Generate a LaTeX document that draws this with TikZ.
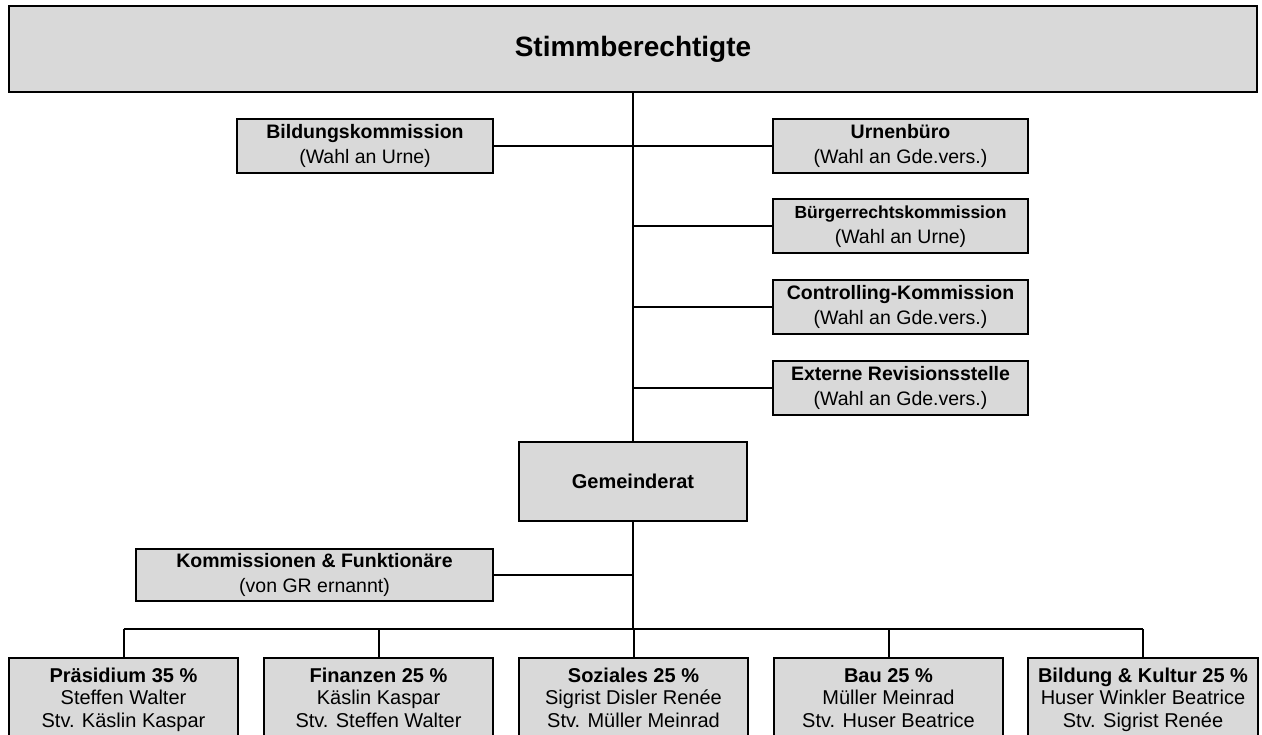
\documentclass[tikz,border=0pt]{standalone}
\usepackage{fontspec}
\setmainfont{Liberation Sans}
\definecolor{boxgray}{RGB}{217,217,217}
\begin{document}
\begin{tikzpicture}[x=1pt,y=-1pt,
  box/.style={draw=black, line width=2pt, fill=boxgray, inner sep=0pt, align=center, text=black,
    font=\fontsize{19.5}{25}\selectfont},
  botbox/.style={box, minimum width=229pt, minimum height=84pt,
    font=\fontsize{20}{22.5}\selectfont},
  rbox/.style={box, minimum width=255pt, minimum height=54pt},
  conn/.style={draw=black, line width=2pt}]
\useasboundingbox (0,0) rectangle (1262,735);
\clip (0,0) rectangle (1262,735);

\node[box, minimum width=1248pt, minimum height=86pt, font=\fontsize{28}{30}\selectfont\bfseries] (stimm) at (633,49) {Stimmberechtigte};

\node[box, minimum width=256pt, minimum height=54pt] (bk) at (365,146) {\strut{\bfseries Bildungskommission}\\\strut(Wahl an Urne)};
\node[rbox] (ub) at (900.5,146) {\strut{\bfseries Urnenbüro}\\\strut(Wahl an Gde.vers.)};
\node[rbox] (brk) at (900.5,226) {\strut{\fontsize{17.5}{25}\selectfont\bfseries Bürgerrechtskommission}\\\strut(Wahl an Urne)};
\node[rbox] (ck) at (900.5,307) {\strut{\bfseries Controlling-Kommission}\\\strut(Wahl an Gde.vers.)};
\node[rbox] (ers) at (900.5,388) {\strut{\bfseries Externe Revisionsstelle}\\\strut(Wahl an Gde.vers.)};

\node[box, minimum width=228pt, minimum height=79pt, font=\fontsize{20}{24}\selectfont\bfseries] (gr) at (633,481.5) {Gemeinderat};

\node[box, minimum width=357pt, minimum height=52pt] (kf) at (314.5,575) {\strut{\bfseries Kommissionen \& Funktionäre}\\\strut(von GR ernannt)};

\node[botbox] (p1) at (123.5,700) {\strut{\bfseries Präsidium 35 \%}\\\strut Steffen Walter\\\strut Stv. Käslin Kaspar};
\node[botbox] (p2) at (378.5,700) {\strut{\bfseries Finanzen 25 \%}\\\strut Käslin Kaspar\\\strut Stv. Steffen Walter};
\node[botbox] (p3) at (633.5,700) {\strut{\bfseries Soziales 25 \%}\\\strut Sigrist Disler Renée\\\strut Stv. Müller Meinrad};
\node[botbox] (p4) at (888.5,700) {\strut{\bfseries Bau 25 \%}\\\strut Müller Meinrad\\\strut Stv. Huser Beatrice};
\node[botbox, minimum width=230pt] (p5) at (1143,700) {\strut{\bfseries Bildung \& Kultur 25 \%}\\\strut Huser Winkler Beatrice\\\strut Stv. Sigrist Renée};

\coordinate (busL) at (123.5,629);
\coordinate (busR) at (1143,629);

\draw[conn] (stimm.south) -- (gr.north);
\draw[conn] (bk.east) -- (bk.east -| stimm.south);
\draw[conn] (ub.west) -- (ub.west -| stimm.south);
\draw[conn] (brk.west) -- (brk.west -| stimm.south);
\draw[conn] (ck.west) -- (ck.west -| stimm.south);
\draw[conn] (ers.west) -- (ers.west -| stimm.south);
\draw[conn] (gr.south) -- (gr.south |- busL);
\draw[conn] (kf.east) -- (kf.east -| gr.south);
\draw[conn] (busL) -- (busR);
\foreach \p in {p1,p2,p3,p4,p5} {
  \draw[conn] (\p.north) -- (\p.north |- busL);
}
\end{tikzpicture}
\end{document}
